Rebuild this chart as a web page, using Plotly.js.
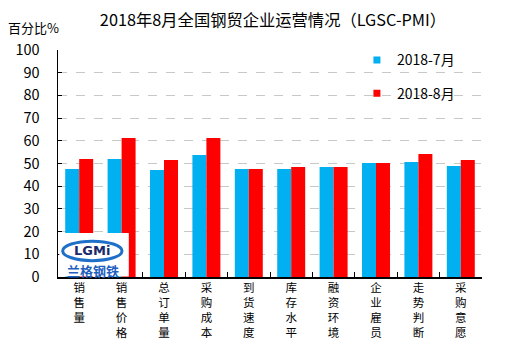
<!DOCTYPE html>
<html>
<head>
<meta charset="utf-8">
<script src="https://cdn.plot.ly/plotly-3.0.1.min.js"></script>
<style>html,body{margin:0;padding:0;background:#fff;}#chart{width:521px;height:348px;}</style>
</head>
<body>
<div id="chart"></div>
<script>
const categories = ["销售量","销售价格","总订单量","采购成本","到货速度","库存水平","融资环境","企业雇员","走势判断","采购意愿"];
const july = [47.6, 52.0, 47.1, 53.7, 47.6, 47.6, 48.5, 50.2, 50.7, 48.9];
const august = [52.0, 61.2, 51.5, 61.2, 47.6, 48.5, 48.5, 50.2, 54.2, 51.5];
const seriesNames = ["2018-7月","2018-8月"];
const yTicks = [0,10,20,30,40,50,60,70,80,90,100];

const FONT = "'Noto Sans CJK SC', 'Microsoft YaHei', sans-serif";
const tickText = categories.map(c => c.split("").join("<br>"));

const data = [
  {type:"bar", x:categories, y:july, name:seriesNames[0], marker:{color:"#00B0F0"}, showlegend:false, hoverinfo:"y"},
  {type:"bar", x:categories, y:august, name:seriesNames[1], marker:{color:"#FF0000"}, showlegend:false, hoverinfo:"y"},
  {type:"scatter", mode:"markers", x:[null], y:[null], name:seriesNames[0], marker:{symbol:"square", size:7, color:"#00B0F0"}, legendgroup:"a"},
  {type:"scatter", mode:"markers", x:[null], y:[null], name:seriesNames[1], marker:{symbol:"square", size:7, color:"#FF0000"}, legendgroup:"b"}
];

const layout = {
  width:521, height:348,
  margin:{l:58, r:39, t:50, b:71},
  paper_bgcolor:"#fff", plot_bgcolor:"#fff",
  font:{family:FONT, color:"#000", size:14},
  title:{text:"2018年8月全国钢贸企业运营情况（LGSC-PMI）", x:0.524, xanchor:"center", xref:"container", y:0.943, yanchor:"middle", yref:"container", font:{size:16.3, family:FONT, color:"#000"}},
  barmode:"group", bargap:0.34, bargroupgap:0,
  xaxis:{type:"category", tickmode:"array", tickvals:categories, ticktext:tickText, tickangle:0,
         tickson:"boundaries", ticks:"inside", ticklen:5, tickcolor:"#000",
         showline:true, linecolor:"#000", linewidth:1.5, showgrid:false,
         tickfont:{size:11.5, family:FONT, color:"#000"}, fixedrange:true},
  yaxis:{range:[0,100], tickmode:"array", tickvals:yTicks, ticks:"inside", ticklen:4, tickcolor:"#000",
         showline:true, linecolor:"#000", linewidth:1.5, showgrid:true, gridcolor:"#c8c8c8", griddash:"dash", gridwidth:1,
         zeroline:false, tickfont:{size:14.5, family:FONT, color:"#000"}, ticklabelstandoff:14, fixedrange:true},
  legend:{x:0.705, y:1.025, xanchor:"left", yanchor:"top", bgcolor:"rgba(0,0,0,0)", tracegroupgap:12,
          font:{size:14, family:FONT, color:"#000"}, itemwidth:30},
  shapes:[
    {type:"rect", xref:"paper", yref:"paper", x0:0.003, x1:0.167, y0:0.002, y1:0.194, fillcolor:"#fff", line:{width:0}, layer:"above"},
    {type:"circle", xref:"paper", yref:"paper", x0:0.011, x1:0.151, y0:0.072, y1:0.158, fillcolor:"rgba(255,255,255,0)", line:{color:"#1f6fc8", width:3}, layer:"above"}
  ],
  annotations:[
    {text:"百分比%", xref:"paper", yref:"paper", x:-0.057, y:1.097, xanchor:"center", yanchor:"middle", showarrow:false, font:{size:13, family:FONT, color:"#000"}},
    {text:"<b>LGMi</b>", xref:"paper", yref:"paper", x:0.081, y:0.115, xanchor:"center", yanchor:"middle", showarrow:false, font:{size:13, family:"'DejaVu Sans', sans-serif", color:"#1a2a6c"}},
    {text:"<b>兰格钢铁</b>", xref:"paper", yref:"paper", x:0.083, y:0.030, xanchor:"center", yanchor:"middle", showarrow:false, font:{size:13, family:FONT, color:"#1f5fbf"}}
  ]
};

Plotly.newPlot("chart", data, layout, {displayModeBar:false, staticPlot:true});
</script>
</body>
</html>
